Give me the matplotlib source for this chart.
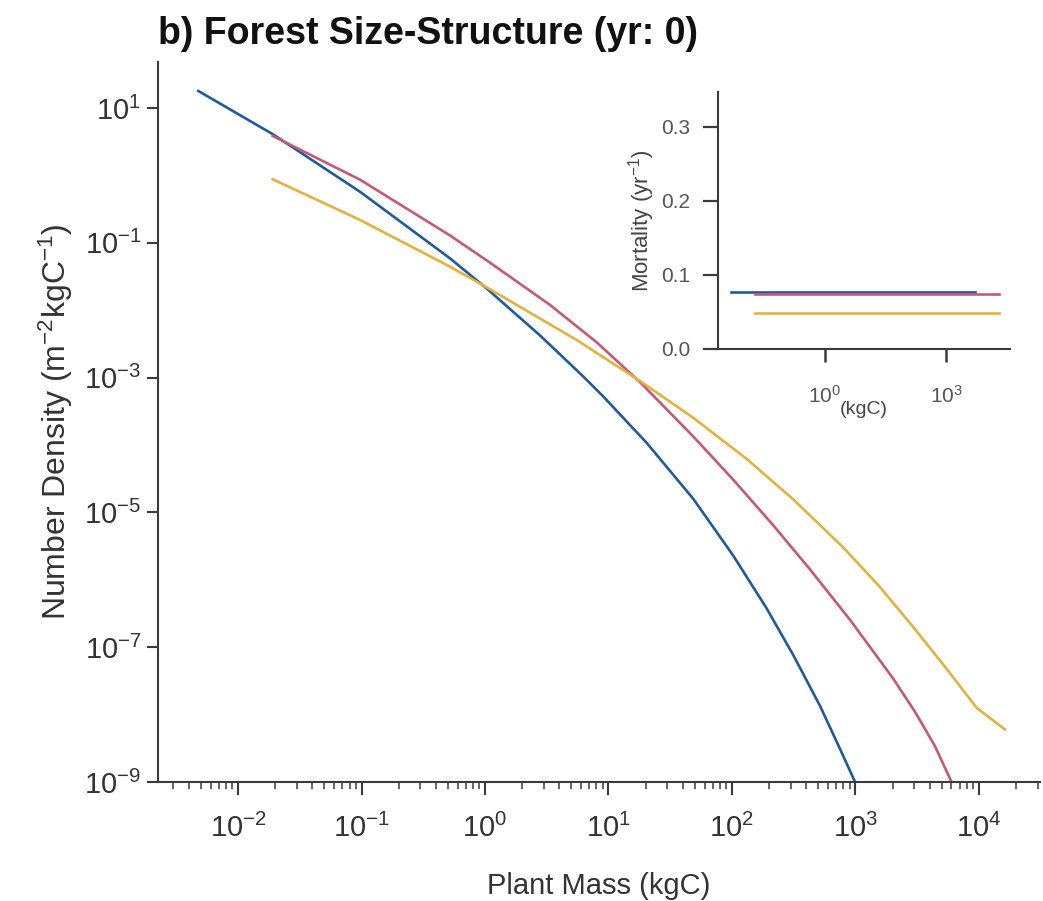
import numpy as np
import matplotlib.pyplot as plt
from matplotlib.ticker import LogLocator, NullFormatter, FixedLocator

plt.rcParams['font.family'] = ['Liberation Sans', 'DejaVu Sans']
plt.rcParams['mathtext.fontset'] = 'custom'
plt.rcParams['mathtext.rm'] = 'Liberation Sans'
plt.rcParams['mathtext.it'] = 'Liberation Sans:italic'

# size distributions (mass in kgC, density in m^-2 kgC^-1)
blue_mass = [4.77e-3, 0.0191, 0.0973, 0.521, 1.032, 2.788, 6.252, 9.078, 20.39,
             48.6, 102.4, 191.0, 313.6, 516, 749, 991, 1310]
blue_dens = [17.87, 4.086, 0.571, 0.05868, 0.02099, 4.227e-3, 1.038e-3, 5.243e-4,
             1.075e-4, 1.591e-5, 2.287e-6, 3.764e-7, 7.66e-8, 1.355e-8, 3.12e-9,
             1.01e-9, 3.24e-10]

red_mass = [0.0191, 0.0973, 0.521, 1.063, 3.359, 8.025, 17.99, 48.6, 102.4, 216.0,
            428.2, 902.6, 2012, 3032, 4403, 6009, 7701]
red_dens = [3.843, 0.8634, 0.1283, 0.0528, 0.01198, 3.34e-3, 8.575e-4, 1.337e-4,
            3.057e-5, 6.436e-6, 1.431e-6, 2.559e-7, 3.468e-8, 1.108e-8, 3.42e-9,
            1.0e-9, 3.713e-10]

yel_mass = [0.0191, 0.0973, 0.521, 1.063, 5.527, 17.99, 48.6, 131.5, 313.6, 796.6,
            1579, 2938, 5476, 9581, 16235]
yel_dens = [0.8752, 0.2180, 0.04419, 0.02113, 3.613e-3, 8.906e-4, 2.533e-4, 6.22e-5,
            1.559e-5, 3.024e-6, 7.82e-7, 1.994e-7, 4.78e-8, 1.262e-8, 6.03e-9]

# mortality rates (yr^-1), constant over size
blue_mort = 0.077
red_mort = 0.0736
yel_mort = 0.048
blue_range = [4.77e-3, 5.0e3]
red_range = [0.0191, 2.0e4]
yel_range = [0.0191, 2.0e4]

c_blue = '#1f5a9e'
c_red = '#c45a72'
c_yel = '#e3b23c'
spine_c = '#3a3a3a'

fig = plt.figure(figsize=(10.43, 9.01), dpi=100)
ax = fig.add_axes([0.1515, 0.1321, 0.8455, 0.7991])

ax.plot(blue_mass, blue_dens, color=c_blue, lw=1.9)
ax.plot(red_mass, red_dens, color=c_red, lw=1.9)
ax.plot(yel_mass, yel_dens, color=c_yel, lw=1.9)

ax.set_xscale('log')
ax.set_yscale('log')
ax.set_xlim(10**-2.648, 10**4.494)
ax.set_ylim(1e-9, 10**1.682)

ax.xaxis.set_major_locator(FixedLocator([10.0**k for k in range(-2, 5)]))
ax.xaxis.set_minor_locator(LogLocator(base=10, subs=np.arange(2, 10), numticks=30))
ax.xaxis.set_minor_formatter(NullFormatter())
ax.yaxis.set_major_locator(FixedLocator([10.0**k for k in range(-9, 2, 2)]))
ax.yaxis.set_minor_locator(FixedLocator([]))

for s in ['top', 'right']:
    ax.spines[s].set_visible(False)
for s in ['left', 'bottom']:
    ax.spines[s].set_color(spine_c)
    ax.spines[s].set_linewidth(1.5)

ax.tick_params(axis='both', which='major', length=8, width=1.5, color=spine_c,
               labelsize=21, labelcolor='#333333', pad=4)
ax.tick_params(axis='x', which='major', length=9, pad=14)
ax.tick_params(axis='x', which='minor', length=5, width=1.1, color=spine_c)

ax.set_xlabel('Plant Mass (kgC)', fontsize=21, color='#333333', labelpad=21)
ax.set_ylabel('Number Density (m$^{-2}$kgC$^{-1}$)', fontsize=23, color='#333333',
              labelpad=7)
ax.set_title('b) Forest Size-Structure (yr: 0)', loc='left', fontsize=27,
             fontweight='bold', color='#111111', pad=13)

# inset: mortality
ins = fig.add_axes([0.688, 0.6127, 0.280, 0.2853])
ins.plot(blue_range, [blue_mort, blue_mort], color=c_blue, lw=1.9)
ins.plot(red_range, [red_mort, red_mort], color=c_red, lw=1.9)
ins.plot(yel_range, [yel_mort, yel_mort], color=c_yel, lw=1.9)
ins.set_xscale('log')
ins.set_xlim(10**-2.64, 10**4.56)
ins.set_ylim(0, 0.347)
ins.xaxis.set_major_locator(FixedLocator([1.0, 1e3]))
ins.xaxis.set_minor_locator(FixedLocator([]))
ins.set_yticks([0.0, 0.1, 0.2, 0.3])
for s in ['top', 'right']:
    ins.spines[s].set_visible(False)
for s in ['left', 'bottom']:
    ins.spines[s].set_color(spine_c)
    ins.spines[s].set_linewidth(1.5)
ins.tick_params(axis='y', length=10.5, width=1.6, color=spine_c,
                labelsize=15, labelcolor='#555555', pad=9)
ins.tick_params(axis='x', length=9, width=1.8, color=spine_c,
                labelsize=15, labelcolor='#555555', pad=17)
ins.set_ylabel('Mortality (yr$^{-1}$)', fontsize=16, color='#444444', labelpad=3)
ins.set_xlabel('(kgC)', fontsize=14, color='#444444', labelpad=-4)

fig.savefig('out.png', dpi=100)
